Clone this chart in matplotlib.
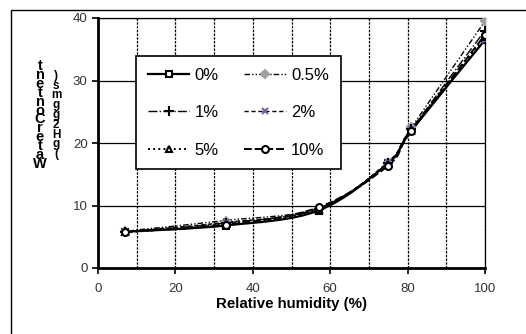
import matplotlib
matplotlib.use("Agg")
import matplotlib.pyplot as plt
from matplotlib.path import Path
from matplotlib.patches import PathPatch, Rectangle
from matplotlib.lines import Line2D

plt.rcParams["font.family"] = ["Liberation Sans", "DejaVu Sans"]

humidity = [7, 33, 57, 75, 81, 100]
series_names = ["0%", "0.5%", "1%", "2%", "5%", "10%"]
wc_0 = [5.8, 6.8, 9.2, 16.8, 22.0, 36.5]
wc_05 = [5.9, 7.6, 9.6, 16.8, 22.5, 39.5]
wc_1 = [5.8, 7.2, 9.5, 16.8, 22.2, 38.0]
wc_2 = [5.8, 7.3, 9.4, 17.0, 22.3, 36.5]
wc_5 = [5.7, 7.0, 9.3, 16.7, 22.0, 37.0]
wc_10 = [5.8, 6.9, 9.7, 16.4, 22.0, 37.3]
x_ticks = [0, 20, 40, 60, 80, 100]
y_ticks = [0, 10, 20, 30, 40]

styles = [
    dict(ls="-", marker="s", mfc="white", mec="black", color="black", ms=5, lw=1.6),
    dict(ls=(0, (4, 1.5, 1, 1.5, 1, 1.5)), marker="D", mfc="#a0a0a0", mec="#a0a0a0", color="black", ms=4.5, lw=1.0),
    dict(ls="-.", marker="+", mfc="black", mec="black", color="black", ms=7, lw=1.0),
    dict(ls=(0, (3, 2)), marker="x", mfc="#7a5fa0", mec="#7a5fa0", color="black", ms=4, lw=1.0),
    dict(ls=":", marker="^", mfc="white", mec="black", color="black", ms=5, lw=1.4),
    dict(ls=(0, (4, 1.5)), marker="o", mfc="white", mec="black", color="black", ms=5, lw=1.4),
]


def smooth_path(xs, ys):
    # Excel-style smoothed line: cubic bezier through the points
    verts = [(xs[0], ys[0])]
    codes = [Path.MOVETO]
    n = len(xs)
    for i in range(n - 1):
        x0, y0 = (xs[i - 1], ys[i - 1]) if i > 0 else (xs[i], ys[i])
        x1, y1 = xs[i], ys[i]
        x2, y2 = xs[i + 1], ys[i + 1]
        x3, y3 = (xs[i + 2], ys[i + 2]) if i + 2 < n else (x2, y2)
        t = 1 / 6
        verts += [(x1 + (x2 - x0) * t, y1 + (y2 - y0) * t),
                  (x2 - (x3 - x1) * t, y2 - (y3 - y1) * t),
                  (x2, y2)]
        codes += [Path.CURVE4] * 3
    return Path(verts, codes)


fig = plt.figure(figsize=(5.26, 3.34), dpi=100)
fig.patches.append(Rectangle((11 / 526, -0.1), 1.2, 1 - 10 / 334 + 0.1, transform=fig.transFigure,
                             fill=False, ec="black", lw=1.0))
ax = fig.add_axes([98 / 526, 1 - 268 / 334, (485 - 98) / 526, (268 - 18) / 334])

data = [wc_0, wc_05, wc_1, wc_2, wc_5, wc_10]
handles = []
for name, ys, st in zip(series_names, data, styles):
    ax.add_patch(PathPatch(smooth_path(humidity, ys), fill=False, ec=st["color"],
                           ls=st["ls"], lw=st["lw"], zorder=3))
    ax.plot(humidity, ys, ls="none", marker=st["marker"], mfc=st["mfc"], mec=st["mec"],
            ms=st["ms"], mew=1.5, zorder=4)
    handles.append(Line2D([], [], color=st["color"], ls=st["ls"], lw=st["lw"], marker=st["marker"],
                          mfc=st["mfc"], mec=st["mec"], ms=st["ms"], mew=1.5, label=name))

ax.set_xlim(0, 100)
ax.set_ylim(0, 40)
ax.set_xticks(x_ticks)
ax.set_yticks(y_ticks)
ax.set_xticks(range(10, 100, 20), minor=True)
ax.grid(True, axis="y", which="major", color="black", lw=0.9, ls="-")
ax.grid(True, axis="x", which="both", color="black", lw=0.9, ls=(0, (2, 1)))
ax.set_axisbelow(True)
ax.tick_params(axis="both", which="both", labelsize=9.5, labelcolor="#333333", length=4, width=1.2)
ax.tick_params(axis="x", which="minor", length=0)
ax.tick_params(axis="x", pad=7)
for s in ["left", "bottom"]:
    ax.spines[s].set_linewidth(2)
for s in ["top", "right"]:
    ax.spines[s].set_linestyle((0, (2, 1)))
    ax.spines[s].set_linewidth(0.9)

ax.set_xlabel("Relative humidity (%)", fontsize=10.8, fontweight="bold", labelpad=1)

# garbled stacked y label as in the source image
fig.text(40 / 526, 1 - 115 / 334, "\n".join(reversed("WaterContent")), ha="center", va="center",
         fontsize=10.5, fontweight="bold", linespacing=0.53)
fig.text(56 / 526, 1 - 115 / 334, "\n".join(reversed("(gH2ggms)")), ha="center", va="center",
         fontsize=8.5, fontweight="bold", linespacing=0.75)

order = [0, 2, 4, 1, 3, 5]
leg = ax.legend([handles[i] for i in order], [series_names[i] for i in order], ncol=2,
                loc="upper left", bbox_to_anchor=((136 - 98) / 387, (268 - 56) / 250),
                borderaxespad=0, fontsize=12, frameon=True, fancybox=False, edgecolor="black",
                handlelength=2.5, handletextpad=0.3, columnspacing=1.55, labelspacing=1.35,
                borderpad=0.7)
leg.get_frame().set_linewidth(1.2)
leg.get_frame().set_alpha(1)

fig.savefig("out.png", dpi=100)
